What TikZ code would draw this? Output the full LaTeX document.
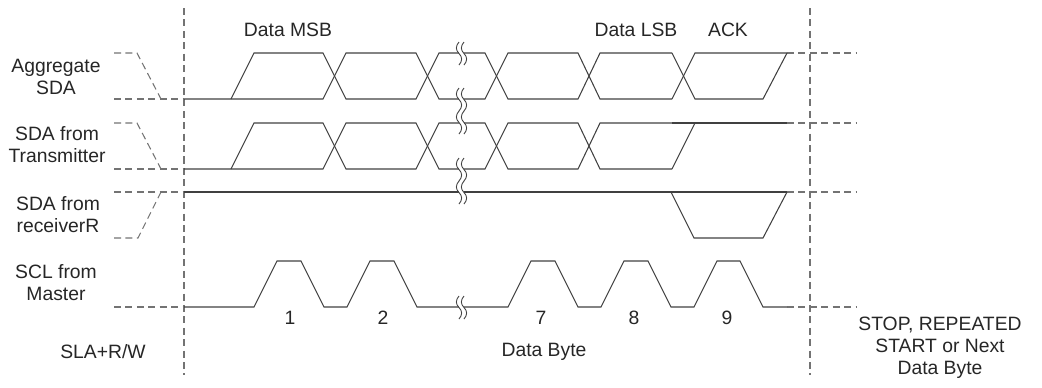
\documentclass[tikz,border=0pt]{standalone}
\usepackage{fontspec}
\setmainfont{Liberation Sans}
\usetikzlibrary{positioning}

\begin{document}
\begin{tikzpicture}[
    x=0.02cm, y=-0.02cm,
    sig/.style={line width=0.6pt, draw=black!75},
    guide/.style={line width=0.6pt, draw=black!55, dash pattern=on 4pt off 2.5pt},
    squig/.style={line width=0.5pt, draw=black!75},
    label/.style={font=\fontsize{11}{12.5}\selectfont, text=black!85, align=center, inner sep=0pt},
]

\useasboundingbox (0,0) rectangle (1042,387);

% Frame lines
\draw[guide] (184,8) -- (184,375);
\draw[guide] (810,8) -- (810,375);

% Lead-in (dashed)
\foreach \hi/\lo in {53/99, 123/169} {
  \draw[guide] (114,\hi) -- (137,\hi) -- (161,\lo);
  \draw[guide] (114,\lo) -- (184,\lo);
}
\draw[guide] (114,238) -- (138,238) -- (161,192);
\draw[guide] (114,192) -- (184,192);
\draw[guide] (114,307) -- (184,307);

% Lead-out (dashed)
\foreach \y in {53, 123, 192, 307}
  \draw[guide] (787,\y) -- (857,\y);

% SDA data bits
\foreach \hi/\lo in {53/99, 123/169} {
  \draw[sig] (184,\lo) -- (323,\lo) -- (346,\hi) -- (416,\hi) -- (439,\lo) -- (485,\lo)
    -- (508,\hi) -- (578,\hi) -- (600,\lo) -- (672,\lo);
  \draw[sig] (231,\lo) -- (254,\hi) -- (323,\hi) -- (346,\lo) -- (416,\lo) -- (439,\hi)
    -- (485,\hi) -- (508,\lo) -- (578,\lo) -- (600,\hi) -- (672,\hi);
}
% Aggregate ACK
\draw[sig] (672,53) -- (695,99) -- (763,99) -- (787,53);
\draw[sig] (672,99) -- (695,53) -- (787,53);
% Transmitter release
\draw[sig] (672,169) -- (695,123);
\draw[sig] (672,123) -- (787,123);
% Receiver ACK
\draw[sig] (184,192) -- (787,192);
\draw[sig] (671,192) -- (694,238) -- (763,238) -- (787,192);

% SCL
\draw[sig] (184,307) -- (254,307) -- (277,261) -- (301,261) -- (324,307) -- (347,307)
  -- (370,261) -- (394,261) -- (417,307) -- (508,307) -- (531,261) -- (555,261)
  -- (578,307) -- (601,307) -- (624,261) -- (648,261) -- (671,307) -- (694,307)
  -- (717,261) -- (740,261) -- (763,307) -- (787,307);

% Breaks
\fill[white] (459,42) rectangle (464,65);
\fill[white] (459,88) rectangle (464,134);
\fill[white] (459,158) rectangle (464,204);
\fill[white] (459,296) rectangle (464,319);
\foreach \yt in {42, 88, 111, 158, 181, 296}
  \foreach \xs in {459, 464}
    \draw[squig] (\xs,\yt) .. controls (\xs-3.5,\yt+4) and (\xs-3.5,\yt+8) .. (\xs,\yt+11.5)
      .. controls (\xs+3.5,\yt+15) and (\xs+3.5,\yt+19) .. (\xs,\yt+23);

% Clock numbers
\node[label] (n1) at (290,318) {1};
\node[label] (n2) at (383,318) {2};
\node[label] (n7) at (541,318) {7};
\node[label] (n8) at (634,318) {8};
\node[label] (n9) at (727,318) {9};

% Signal names
\node[label] (agg) at (56,77) {Aggregate\\SDA};
\node[label] (tx) at (57,145) {SDA from\\Transmitter};
\node[label] (rx) at (58,215) {SDA from\\receiverR};
\node[label] (scl) at (56,283) {SCL from\\Master};

% Bit and phase labels
\node[label] (msb) at (288,30) {Data MSB};
\node[label] (lsb) at (636,30) {Data LSB};
\node[label] (ack) at (728,30) {ACK};
\node[label] (sla) at (103,352) {SLA+R/W};
\node[label] (byte) at (544,352) {Data Byte};
\node[label] (stop) at (940,348) {STOP, REPEATED\\START or Next\\Data Byte};

\end{tikzpicture}
\end{document}
